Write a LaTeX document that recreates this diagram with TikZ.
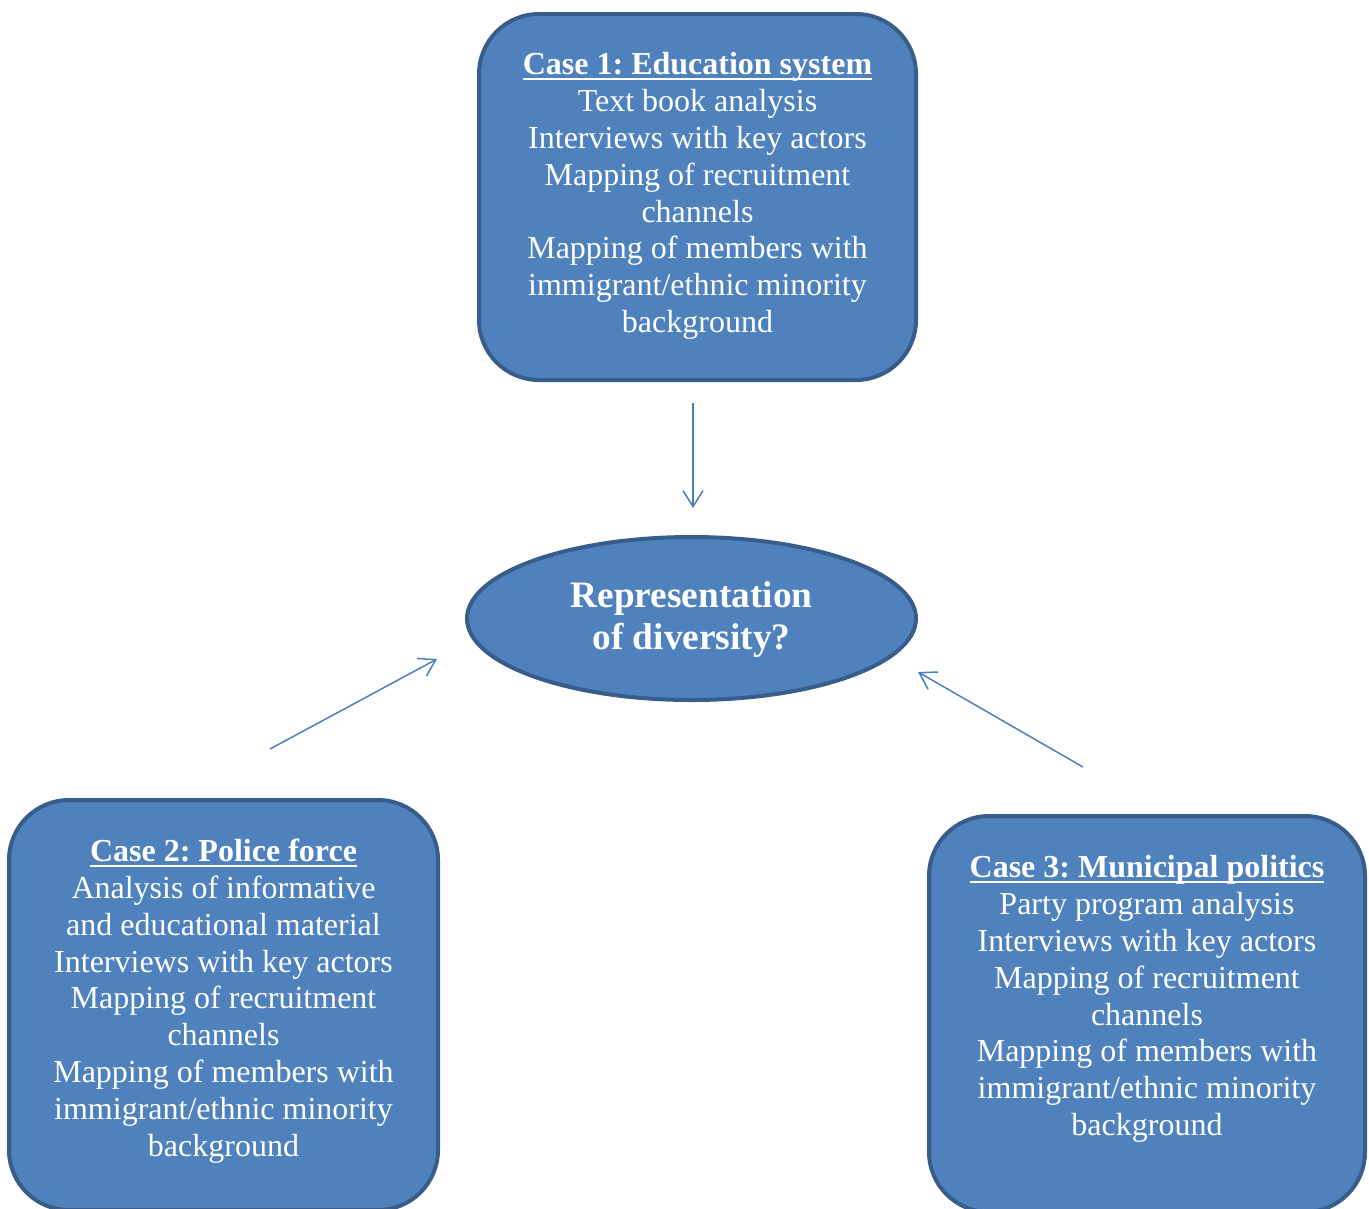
\documentclass[tikz,border=0pt]{standalone}
\usepackage{fontspec}
\setmainfont{Liberation Serif}
\usetikzlibrary{arrows.meta,shapes.geometric}
\definecolor{boxfill}{HTML}{4F81BD}
\definecolor{boxline}{HTML}{385D8A}
\definecolor{arrowcol}{HTML}{4A7EBB}
\newcommand\myul[1]{\setbox0\hbox{#1}\rlap{\rule[-4pt]{\wd0}{1.8pt}}\box0}
\frenchspacing
\begin{document}
\begin{tikzpicture}[x=0.75pt,y=-0.75pt,
  casebox/.style={draw=boxline, fill=boxfill, line width=3pt, rounded corners=45pt, inner sep=0pt},
  casetext/.style={text=white, align=center, inner sep=0pt, font=\fontsize{24}{27.6}\selectfont},
  ovalbox/.style={ellipse, draw=boxline, fill=boxfill, line width=3pt, inner sep=0pt},
  ovaltext/.style={text=white, align=center, inner sep=0pt, font=\fontsize{28}{31.5}\selectfont\bfseries},
  arr/.style={draw=arrowcol, line width=1.1pt, -{Straight Barb[length=12pt,width=15pt]}}
]
\useasboundingbox (0,0) rectangle (1369,1208);

% boxes
\node[casebox, minimum width=327.75pt, minimum height=274.5pt] (c1) at (697.5,197) {};
\node[casebox, minimum width=321.75pt, minimum height=307.5pt] (c2) at (223.5,1005) {};
\node[casebox, minimum width=327pt, minimum height=297pt] (c3) at (1147,1014) {};
\node[ovalbox, minimum width=336.75pt, minimum height=122.25pt] (ov) at (691.5,618.5) {};

% texts
\node[casetext] (t1) at (697.5,196) {\myul{\textbf{Case 1: Education system}}\\
Text book analysis\\
Interviews with key actors\\
Mapping of recruitment\\
channels\\
Mapping of members with\\
immigrant/ethnic minority\\
background};

\node[casetext] (t2) at (223.5,1001) {\myul{\textbf{Case 2: Police force}}\\
Analysis of informative\\
and educational material\\
Interviews with key actors\\
Mapping of recruitment\\
channels\\
Mapping of members with\\
immigrant/ethnic minority\\
background};

\node[casetext] (t3) at (1147,999) {\myul{\textbf{Case 3: Municipal politics}}\\
Party program analysis\\
Interviews with key actors\\
Mapping of recruitment\\
channels\\
Mapping of members with\\
immigrant/ethnic minority\\
background};

\node[ovaltext] (ot) at (691.5,620) {Representation\\of diversity?};

% arrows
\coordinate (a1s) at (693,403);
\coordinate (a1e) at (693,508);
\coordinate (a2s) at (270,749);
\coordinate (a2e) at (437,659);
\coordinate (a3s) at (1083,767);
\coordinate (a3e) at (918,672);
\draw[arr] (a1s) -- (a1e);
\draw[arr] (a2s) -- (a2e);
\draw[arr] (a3s) -- (a3e);
\end{tikzpicture}
\end{document}
